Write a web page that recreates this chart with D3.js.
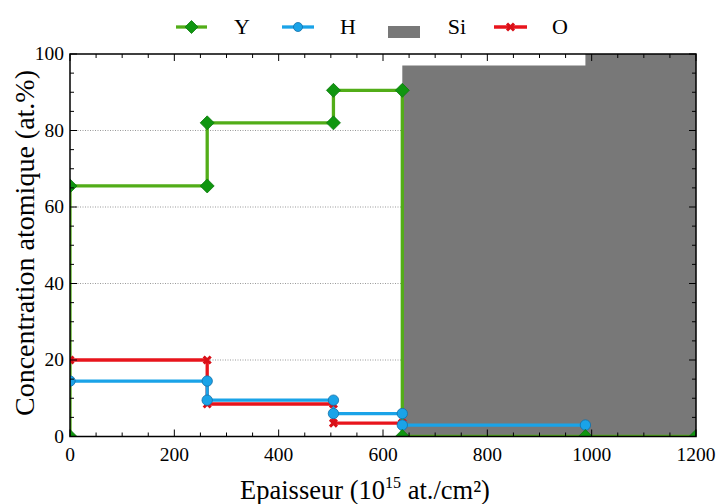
<!DOCTYPE html>
<html><head><meta charset="utf-8">
<script src="https://cdn.jsdelivr.net/npm/d3@7"></script>
<style>body{margin:0;background:#fff}svg{display:block}text{font-family:"Liberation Serif","Times New Roman",serif}</style>
</head><body><svg id="c" width="718" height="504"></svg>
<script>
const xTicks = [0,200,400,600,800,1000,1200];
const yTicks = [0,20,40,60,80,100];
const siX = [637,637,988,988,1200];
const siY = [0,97,97,100,100];
const yX = [0,0,263,263,505,505,637,637,988,1200];
const yY = [0,65.5,65.5,82,82,90.5,90.5,0,0,0];
const hX = [0,263,263,505,505,637,637,988];
const hY = [14.5,14.5,9.5,9.5,6,6,3,3];
const oX = [0,263,263,505,505,637];
const oY = [20,20,8.5,8.5,3.5,3.5];
const legendLabels = ["Y","H","Si","O"];

const svg = d3.select("#c");
const L=70,R=696,T=54,B=436.5;
const x = d3.scaleLinear().domain([0,1200]).range([L,R]);
const y = d3.scaleLinear().domain([0,100]).range([B,T]);

const defs = svg.append("defs");
defs.append("clipPath").attr("id","pc").append("rect").attr("x",L).attr("y",T).attr("width",R-L).attr("height",B-T);

// grid
svg.append("g").selectAll("line").data(yTicks.filter(d=>d>0&&d<100)).join("line")
  .attr("x1",L).attr("x2",R).attr("y1",d=>y(d)).attr("y2",d=>y(d))
  .attr("stroke","#999").attr("stroke-width",1).attr("stroke-dasharray","1,1.5");

const plot = svg.append("g").attr("clip-path","url(#pc)");
// Si area
const siPts = siX.map((v,i)=>[v,siY[i]]);
plot.append("path").datum(siPts)
  .attr("d", d3.area().x(d=>x(d[0])).y0(y(0)).y1(d=>y(d[1])))
  .attr("fill","#787878");

const line = d3.line().x(d=>x(d[0])).y(d=>y(d[1]));
function series(xs,ys,color,lw){
  const pts = xs.map((v,i)=>[v,ys[i]]);
  plot.append("path").datum(pts).attr("d",line).attr("fill","none").attr("stroke",color).attr("stroke-width",lw);
  return pts;
}
const oPts = series(oX,oY,"#e8141c",3.3);
const hPts = series(hX,hY,"#1aa3e8",3.3);
const yPts = series(yX,yY,"#52ad18",3.3);

function diamond(g,cx,cy,s){g.append("path").attr("d",`M${cx},${cy-s}L${cx+s},${cy}L${cx},${cy+s}L${cx-s},${cy}Z`).attr("fill","#109610").attr("stroke","#0c7a0c").attr("stroke-width",0.8);}
function circ(g,cx,cy,r){g.append("circle").attr("cx",cx).attr("cy",cy).attr("r",r).attr("fill","#1aa3e8").attr("stroke","#1370a8").attr("stroke-width",0.8);}
function cross(g,cx,cy,s){g.append("path").attr("d",`M${cx-s},${cy-s}L${cx+s},${cy+s}M${cx-s},${cy+s}L${cx+s},${cy-s}`).attr("stroke","#d81018").attr("stroke-width",3);}

oPts.forEach(p=>cross(plot,x(p[0]),y(p[1]),3.5));
hPts.forEach(p=>circ(plot,x(p[0]),y(p[1]),5.2));
yPts.forEach(p=>diamond(plot,x(p[0]),y(p[1]),7));

// axes frame
svg.append("rect").attr("x",L).attr("y",T).attr("width",R-L).attr("height",B-T).attr("fill","none").attr("stroke","#000").attr("stroke-width",1.5);

// ticks
const xMinor = d3.range(0,1201,50);
const yMinor = d3.range(0,101,5);
const tg = svg.append("g").attr("stroke","#000").attr("stroke-width",1);
xMinor.forEach(v=>{
  const len = v%200===0?7:4;
  tg.append("line").attr("x1",x(v)).attr("x2",x(v)).attr("y1",B).attr("y2",B-len);
  tg.append("line").attr("x1",x(v)).attr("x2",x(v)).attr("y1",T).attr("y2",T+len);
});
yMinor.forEach(v=>{
  const len = v%20===0?7:4;
  tg.append("line").attr("x1",L).attr("x2",L+len).attr("y1",y(v)).attr("y2",y(v));
  tg.append("line").attr("x1",R).attr("x2",R-len).attr("y1",y(v)).attr("y2",y(v));
});

// tick labels
svg.append("g").selectAll("text").data(xTicks).join("text")
  .attr("x",d=>x(d)).attr("y",B+24).attr("text-anchor","middle").attr("font-size",19.5).text(d=>d);
svg.append("g").selectAll("text").data(yTicks).join("text")
  .attr("x",L-6).attr("y",d=>y(d)+6).attr("text-anchor","end").attr("font-size",19.5).text(d=>d);

// axis titles
const xt = svg.append("text").attr("x",(L+R)/2-18).attr("y",499).attr("text-anchor","middle").attr("font-size",26.5);
xt.append("tspan").text("Epaisseur (10");
xt.append("tspan").attr("font-size",16).attr("dy",-11).text("15");
xt.append("tspan").attr("dy",11).text(" at./cm²)");
svg.append("text").attr("transform","translate(34,243) rotate(-90)").attr("text-anchor","middle").attr("font-size",28)
  .text("Concentration atomique (at.%)");

// legend
const lg = svg.append("g");
const ly = 27;
lg.append("line").attr("x1",176).attr("x2",207).attr("y1",ly).attr("y2",ly).attr("stroke","#52ad18").attr("stroke-width",3.3);
diamond(lg,191.5,ly,6.5);
lg.append("line").attr("x1",282).attr("x2",314).attr("y1",ly).attr("y2",ly).attr("stroke","#1aa3e8").attr("stroke-width",3.3);
circ(lg,298,ly,4.5);
lg.append("rect").attr("x",388).attr("y",26).attr("width",32).attr("height",12).attr("fill","#787878");
lg.append("line").attr("x1",494).attr("x2",527).attr("y1",ly).attr("y2",ly).attr("stroke","#e8141c").attr("stroke-width",3.3);
cross(lg,510.5,ly,3.5);
const lx=[242,348,457,560];
legendLabels.forEach((t,i)=>lg.append("text").attr("x",lx[i]).attr("y",ly+7).attr("text-anchor","middle").attr("font-size",22).text(t));
</script></body></html>
